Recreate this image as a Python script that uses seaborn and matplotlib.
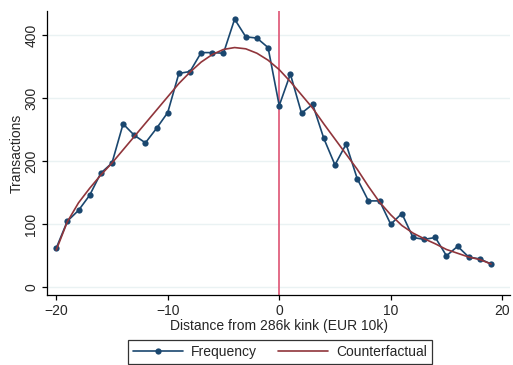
import numpy as np
import pandas as pd
import matplotlib
matplotlib.use("Agg")
import matplotlib.pyplot as plt
import seaborn as sns

distance = list(range(-20, 20))
frequency = [62, 105, 122, 146, 181, 197, 259, 241, 229, 252, 277, 339, 342, 372, 372, 371,
             425, 397, 395, 380, 288, 338, 276, 290, 236, 194, 227, 172, 137, 137, 100, 117,
             79, 76, 79, 50, 65, 48, 45, 37]
counterfactual = [59, 104, 134, 157, 178, 197, 218, 239, 260, 281, 302, 323, 341, 357, 369, 377,
                  380, 378, 371, 360, 345, 326, 305, 284, 259, 235, 211, 187, 160, 135, 115, 98,
                  86, 77, 69, 60, 54, 48, 44, 37]
kink = 0

df = pd.DataFrame({"x": distance, "Frequency": frequency, "Counterfactual": counterfactual})

sns.set_theme(style="white")
plt.rcParams["font.family"] = ["Liberation Sans", "DejaVu Sans"]

fig = plt.figure(figsize=(5.13, 3.65), dpi=100)
ax = fig.add_axes([0.0922, 0.192, 0.902, 0.778])

navy = "#1a476f"
maroon = "#90353b"
pink = "#e0607e"

sns.lineplot(data=df, x="x", y="Frequency", ax=ax, color=navy, lw=1.2,
             marker="o", markersize=4.5, markeredgewidth=0, label="Frequency", legend=False)
sns.lineplot(data=df, x="x", y="Counterfactual", ax=ax, color=maroon, lw=1.2,
             label="Counterfactual", legend=False)
ax.axvline(kink, color=pink, lw=1.3, zorder=1)

ax.set_xlim(-20.8, 20.7)
ax.set_ylim(-12, 438)
ax.set_xticks([-20, -10, 0, 10, 20])
ax.set_yticks([0, 100, 200, 300, 400])
ax.grid(axis="y", color="#eaf2f3", lw=1)
ax.set_axisbelow(True)
for s in ["top", "right"]:
    ax.spines[s].set_visible(False)
for s in ["left", "bottom"]:
    ax.spines[s].set_color("black")
    ax.spines[s].set_linewidth(0.9)
ax.tick_params(axis="both", direction="out", length=3.5, width=0.9, color="black",
               labelsize=10, bottom=True, left=True, pad=3)
for lbl in ax.get_yticklabels():
    lbl.set_rotation(90)
    lbl.set_va("center")
ax.set_xlabel("Distance from 286k kink (EUR 10k)", fontsize=10, labelpad=1)
ax.set_ylabel("Transactions", fontsize=10, labelpad=0.5)

handles, labels = ax.get_legend_handles_labels()
leg = fig.legend(handles, labels, loc="center", bbox_to_anchor=(0.546, 0.035), ncol=2,
                 frameon=True, fancybox=False, edgecolor="black", fontsize=10,
                 handlelength=3.6, columnspacing=1.5, borderpad=0.35, handletextpad=0.6,
                 borderaxespad=0)
leg.get_frame().set_linewidth(0.9)

fig.savefig("out.png", dpi=100)
